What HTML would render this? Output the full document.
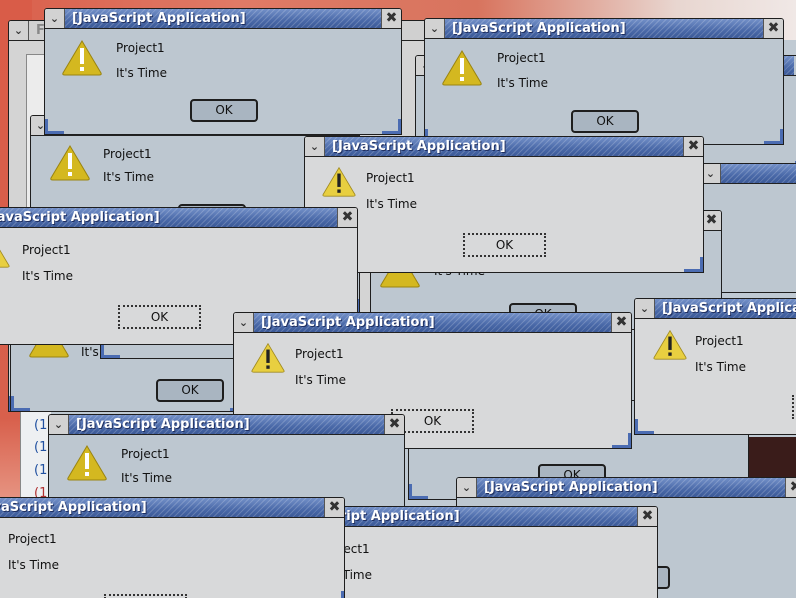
<!DOCTYPE html>
<html><head><meta charset="utf-8">
<style>
html,body{margin:0;padding:0;width:796px;height:598px;overflow:hidden}
#w{position:relative;width:796px;height:598px;overflow:hidden;background:#c0cad3;
 font-family:"DejaVu Sans","Liberation Sans",sans-serif;}
.bgred{position:absolute;left:0;top:0;width:796px;height:40px;background:linear-gradient(90deg,#d9604c,#e07a66 30%,#d8745e 60%,#e8d6d0 85%,#f0e8e6);}
.bgred2{position:absolute;left:0;top:0;width:32px;height:598px;background:linear-gradient(180deg,#d95c48 0,#d8604c 70%,#e89a88 85%,#d87060 100%);}
.d{position:absolute;box-sizing:border-box;border:1px solid #1e1e1e;overflow:hidden;background:#bdc7d0;border-radius:3px 3px 0 0}
.d.a{background:#d8d9da}
.d::before{content:"";position:absolute;left:0;bottom:0;width:16px;height:12px;border-left:3px solid #4b6cb2;border-bottom:3px solid #4b6cb2}
.d::after{content:"";position:absolute;right:0;bottom:0;width:16px;height:12px;border-right:3px solid #4b6cb2;border-bottom:3px solid #4b6cb2}
.t{position:absolute;left:0;top:0;right:0;height:19px;border-bottom:1px solid #222}
.m{position:absolute;left:0;top:0;width:20px;height:19px;background:#d2d2d2;border-right:1px solid #555;box-sizing:border-box;color:#333;font-size:11px;text-align:center;line-height:19px;font-weight:bold}
.b{position:absolute;left:20px;right:20px;top:0;height:19px;
 background:repeating-linear-gradient(135deg,rgba(255,255,255,.18) 0 1px,rgba(0,0,0,0) 1px 4px),linear-gradient(180deg,#7390c8,#4a69a8 60%,#3c5a98);
 color:#fff;font-weight:bold;font-size:13px;line-height:19px;white-space:nowrap;padding-left:7px;box-sizing:border-box;text-shadow:1px 1px 0 #203060}
.x{position:absolute;right:0;top:0;width:20px;height:19px;background:#d2d2d2;border-left:1px solid #555;box-sizing:border-box;color:#333;font-size:14px;text-align:center;line-height:19px;font-weight:bold}
.p{position:absolute;font-size:12px;line-height:14px;color:#111;white-space:nowrap}
.ok{position:absolute;box-sizing:border-box;font-size:12px;text-align:center;color:#111}
.a .ok{width:83px;height:24px;border:2px dotted #333;line-height:20px;background:#d8d9da}
.d:not(.a) .ok{width:68px;height:23px;border:2px solid #1e1e1e;border-radius:4px;line-height:19px;background:#a9b5c1}
.i{position:absolute}
</style></head><body><div id="w">
<div class="bgred"></div><div class="bgred2"></div>

<div class="d a" style="left:8px;top:20px;width:420px;height:392px;background:#d4d4d4">
 <div class="t"><span class="m">⌄</span><span class="b" style="background:#d0d0d0;color:#888;text-shadow:none;right:0">F</span></div>
 <div style="position:absolute;left:17px;top:33px;width:20px;height:170px;background:#ececec;border:1px solid #888"></div>
</div>
<div style="position:absolute;left:20px;top:410px;width:30px;height:92px;background:#eef0f2;border-left:1px solid #888;font-size:13px;color:#2050a0">
 <div style="position:absolute;left:13px;top:8px">(18</div><div style="position:absolute;left:13px;top:30px">(18</div><div style="position:absolute;left:13px;top:53px">(18</div><div style="position:absolute;left:13px;top:76px;color:#b03030">(1</div>
</div>

<div class="d" style="left:415px;top:55px;width:400px;height:110px"><div class="t"><span class="m">⌄</span><span class="b"></span></div></div>
<div class="d" style="left:700px;top:163px;width:140px;height:130px"><div class="t"><span class="m">⌄</span><span class="b"></span></div></div>
<div class="d" style="left:370px;top:210px;width:352px;height:120px">
 <div class="t"><span class="b" style="left:0"></span><span class="x">✖</span></div>
 <svg class="i" style="left:8px;top:40px" width="42" height="37" viewBox="0 0 42 37"><path d="M21 2 L40 34 Q41 36 38 36 L4 36 Q1 36 2 34 Z" fill="#d4b820" stroke="#9a8410"/></svg>
 <div class="p" style="left:63px;top:53px">It's Time</div>
 <div class="ok" style="left:138px;top:92px">OK</div>
</div>

<div class="d" style="left:10px;top:260px;width:240px;height:152px">
 <svg class="i" style="left:17px;top:60px" width="42" height="37" viewBox="0 0 42 37"><path d="M21 2 L40 34 Q41 36 38 36 L4 36 Q1 36 2 34 Z" fill="#d4b820" stroke="#9a8410"/></svg>
 <div class="p" style="left:70px;top:84px">It's</div>
 <div class="ok" style="left:145px;top:118px">OK</div>
</div>
<div class="d" style="left:100px;top:240px;width:200px;height:119px"></div>

<div class="d" style="left:30px;top:115px;width:330px;height:200px">
 <div class="t"><span class="m">⌄</span><span class="b">[JavaScript Application]</span></div>
 <svg class="i" style="left:18px;top:28px" width="42" height="37" viewBox="0 0 42 37"><path d="M21 2 L40 34 Q41 36 38 36 L4 36 Q1 36 2 34 Z" fill="#d4b820" stroke="#9a8410"/><rect x="19" y="9" width="4" height="16" fill="#fff"/><rect x="19" y="28" width="4" height="4" fill="#fff"/></svg>
 <div class="p" style="left:72px;top:31px">Project1</div>
 <div class="p" style="left:72px;top:54px">It's Time</div>
 <div class="ok" style="left:147px;top:88px">OK</div>
</div>

<div class="d" style="left:44px;top:8px;width:358px;height:127px">
 <div class="t"><span class="m">⌄</span><span class="b">[JavaScript Application]</span><span class="x">✖</span></div>
 <svg class="i" style="left:16px;top:30px" width="42" height="37" viewBox="0 0 42 37"><path d="M21 2 L40 34 Q41 36 38 36 L4 36 Q1 36 2 34 Z" fill="#d4b820" stroke="#9a8410"/><rect x="19" y="9" width="4" height="16" fill="#fff"/><rect x="19" y="28" width="4" height="4" fill="#fff"/></svg>
 <div class="p" style="left:71px;top:32px">Project1</div>
 <div class="p" style="left:71px;top:57px">It's Time</div>
 <div class="ok" style="left:145px;top:90px">OK</div>
</div>

<div class="d" style="left:424px;top:18px;width:360px;height:127px">
 <div class="t"><span class="m">⌄</span><span class="b">[JavaScript Application]</span><span class="x">✖</span></div>
 <svg class="i" style="left:16px;top:30px" width="42" height="37" viewBox="0 0 42 37"><path d="M21 2 L40 34 Q41 36 38 36 L4 36 Q1 36 2 34 Z" fill="#d4b820" stroke="#9a8410"/><rect x="19" y="9" width="4" height="16" fill="#fff"/><rect x="19" y="28" width="4" height="4" fill="#fff"/></svg>
 <div class="p" style="left:72px;top:32px">Project1</div>
 <div class="p" style="left:72px;top:57px">It's Time</div>
 <div class="ok" style="left:146px;top:91px">OK</div>
</div>

<div class="d" style="left:408px;top:400px;width:341px;height:100px">
 <div class="ok" style="left:129px;top:63px">OK</div>
</div>
<div style="position:absolute;left:749px;top:437px;width:47px;height:45px;background:#3a1c1a"></div>

<div class="d a" style="left:304px;top:136px;width:400px;height:137px">
 <div class="t"><span class="m">⌄</span><span class="b">[JavaScript Application]</span><span class="x">✖</span></div>
 <svg class="i" style="left:16px;top:29px" width="36" height="31" viewBox="0 0 42 37"><path d="M21 2 L40 34 Q41 36 38 36 L4 36 Q1 36 2 34 Z" fill="#e8cf40" stroke="#a08a20"/><rect x="19" y="9" width="4" height="16" fill="#222"/><rect x="19" y="28" width="4" height="4" fill="#222"/></svg>
 <div class="p" style="left:61px;top:34px">Project1</div>
 <div class="p" style="left:61px;top:60px">It's Time</div>
 <div class="ok" style="left:158px;top:96px">OK</div>
</div>

<div class="d a" style="left:-42px;top:207px;width:400px;height:138px">
 <div class="t"><span class="m">⌄</span><span class="b">[JavaScript Application]</span><span class="x">✖</span></div>
 <svg class="i" style="left:16px;top:29px" width="36" height="31" viewBox="0 0 42 37"><path d="M21 2 L40 34 Q41 36 38 36 L4 36 Q1 36 2 34 Z" fill="#e8cf40" stroke="#a08a20"/><rect x="19" y="9" width="4" height="16" fill="#222"/><rect x="19" y="28" width="4" height="4" fill="#222"/></svg>
 <div class="p" style="left:63px;top:35px">Project1</div>
 <div class="p" style="left:63px;top:61px">It's Time</div>
 <div class="ok" style="left:159px;top:97px">OK</div>
</div>

<div class="d a" style="left:233px;top:312px;width:399px;height:137px">
 <div class="t"><span class="m">⌄</span><span class="b">[JavaScript Application]</span><span class="x">✖</span></div>
 <svg class="i" style="left:16px;top:29px" width="36" height="31" viewBox="0 0 42 37"><path d="M21 2 L40 34 Q41 36 38 36 L4 36 Q1 36 2 34 Z" fill="#e8cf40" stroke="#a08a20"/><rect x="19" y="9" width="4" height="16" fill="#222"/><rect x="19" y="28" width="4" height="4" fill="#222"/></svg>
 <div class="p" style="left:61px;top:34px">Project1</div>
 <div class="p" style="left:61px;top:60px">It's Time</div>
 <div class="ok" style="left:157px;top:96px">OK</div>
</div>

<div class="d a" style="left:634px;top:298px;width:400px;height:137px">
 <div class="t"><span class="m">⌄</span><span class="b">[JavaScript Application]</span><span class="x">✖</span></div>
 <svg class="i" style="left:17px;top:30px" width="36" height="31" viewBox="0 0 42 37"><path d="M21 2 L40 34 Q41 36 38 36 L4 36 Q1 36 2 34 Z" fill="#e8cf40" stroke="#a08a20"/><rect x="19" y="9" width="4" height="16" fill="#222"/><rect x="19" y="28" width="4" height="4" fill="#222"/></svg>
 <div class="p" style="left:60px;top:35px">Project1</div>
 <div class="p" style="left:60px;top:61px">It's Time</div>
 <div class="ok" style="left:157px;top:96px">OK</div>
</div>

<div class="d" style="left:48px;top:414px;width:357px;height:200px">
 <div class="t"><span class="m">⌄</span><span class="b">[JavaScript Application]</span><span class="x">✖</span></div>
 <svg class="i" style="left:17px;top:29px" width="42" height="37" viewBox="0 0 42 37"><path d="M21 2 L40 34 Q41 36 38 36 L4 36 Q1 36 2 34 Z" fill="#d4b820" stroke="#9a8410"/><rect x="19" y="9" width="4" height="16" fill="#fff"/><rect x="19" y="28" width="4" height="4" fill="#fff"/></svg>
 <div class="p" style="left:72px;top:32px">Project1</div>
 <div class="p" style="left:72px;top:56px">It's Time</div>
</div>

<div class="d" style="left:456px;top:477px;width:350px;height:140px">
 <div class="t"><span class="m">⌄</span><span class="b">[JavaScript Application]</span><span class="x">✖</span></div>
 <div class="ok" style="left:145px;top:88px">OK</div>
</div>

<div class="d a" style="left:258px;top:506px;width:400px;height:110px">
 <div class="t"><span class="m">⌄</span><span class="b">[JavaScript Application]</span><span class="x">✖</span></div>
 <div class="p" style="left:62px;top:35px">Project1</div>
 <div class="p" style="left:62px;top:61px">It's Time</div>
</div>

<div class="d a" style="left:-55px;top:497px;width:400px;height:110px">
 <div class="t"><span class="m">⌄</span><span class="b">[JavaScript Application]</span><span class="x">✖</span></div>
 <div class="p" style="left:62px;top:34px">Project1</div>
 <div class="p" style="left:62px;top:60px">It's Time</div>
 <div class="ok" style="left:158px;top:96px">OK</div>
</div>
</div></body></html>
